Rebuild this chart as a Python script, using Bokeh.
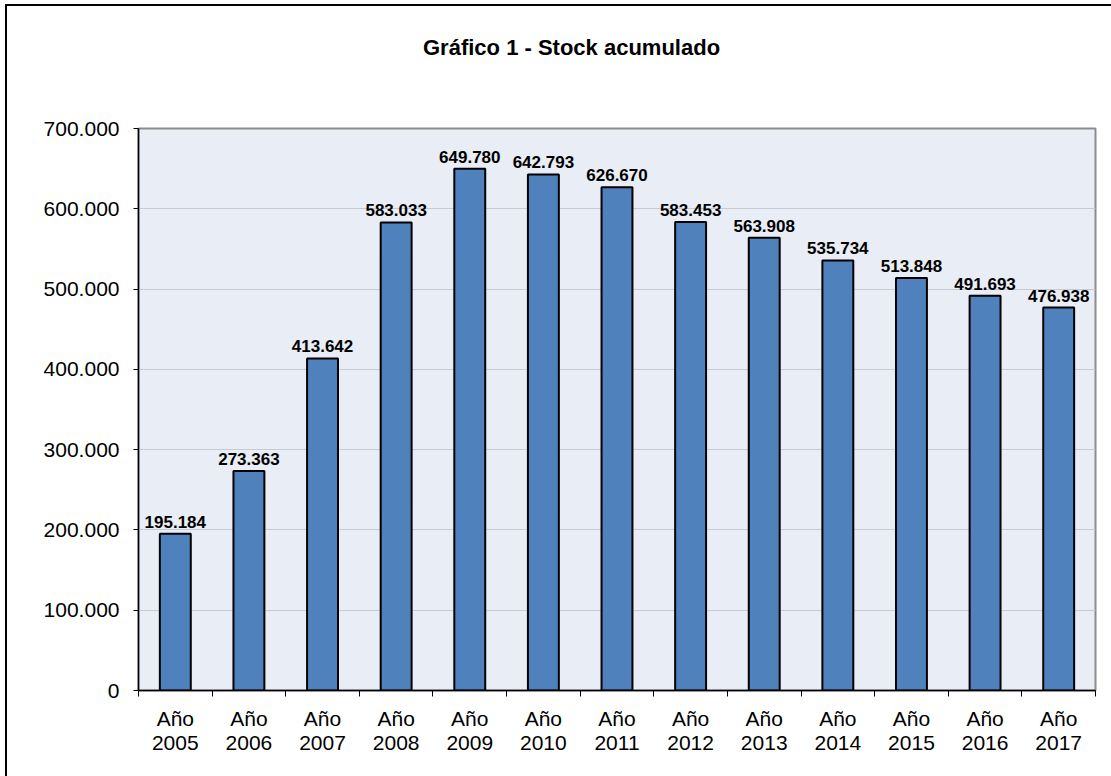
from bokeh.plotting import figure
from bokeh.layouts import column
from bokeh.models import Range1d, FixedTicker, CustomJSTickFormatter, ColumnDataSource, Div
from bokeh.core.properties import value
from bokeh.embed import file_html
from bokeh.resources import INLINE

years = ["2005", "2006", "2007", "2008", "2009", "2010", "2011", "2012", "2013", "2014", "2015", "2016", "2017"]
stock = [195184, 273363, 413642, 583033, 649780, 642793, 626670, 583453, 563908, 535734, 513848, 491693, 476938]
y_ticks = [0, 100000, 200000, 300000, 400000, 500000, 600000, 700000]
title_text = "Gráfico 1 - Stock acumulado"

FONT = "Liberation Sans"

def fmt(v):
    return f"{v:,}".replace(",", ".")

xs = [i + 0.5 for i in range(len(years))]
src = ColumnDataSource(dict(x=xs, top=stock, lab=[fmt(v) for v in stock]))

title_div = Div(text=title_text, width=1104, height=80,
                styles={"font-family": FONT, "font-weight": "bold", "font-size": "22px",
                        "color": "black", "background-color": "white",
                        "padding-left": "411px", "padding-top": "24px", "line-height": "26px",
                        "box-sizing": "border-box"})

p = figure(width=1104, height=680, output_backend="svg", toolbar_location=None,
           x_range=Range1d(0, len(years)), y_range=Range1d(0, 700000),
           min_border_left=131, min_border_top=32, min_border_right=16, min_border_bottom=86)
p.background_fill_color = "#E8EDF6"
p.border_fill_color = "white"
p.outline_line_color = "#8C8C8C"
p.outline_line_width = 2

p.vbar(x="x", top="top", width=0.42, bottom=0, source=src,
       fill_color="#4F81BD", line_color="black", line_width=2)
p.text(x="x", y="top", text="lab", source=src, text_align="center", text_baseline="alphabetic",
       y_offset=-12, text_font=value(FONT), text_font_style="bold", text_font_size="17px",
       text_color="black")

p.xgrid.grid_line_color = None
p.ygrid.grid_line_color = "#C6CBD3"
p.ygrid.grid_line_width = 1.2
p.ygrid.ticker = FixedTicker(ticks=y_ticks)

p.yaxis.ticker = FixedTicker(ticks=y_ticks)
p.yaxis.formatter = CustomJSTickFormatter(code="return Math.round(tick).toString().replace(/\\B(?=(\\d{3})+(?!\\d))/g, '.');")
p.yaxis.major_tick_out = 5
p.yaxis.major_tick_in = 0
p.yaxis.minor_tick_line_color = None
p.yaxis.axis_line_color = "black"
p.yaxis.axis_line_width = 1.5
p.yaxis.major_tick_line_color = "black"
p.yaxis.major_label_text_font = FONT
p.yaxis.major_label_text_font_size = "21px"
p.yaxis.major_label_text_color = "black"
p.yaxis.major_label_standoff = 14

p.xaxis.ticker = FixedTicker(ticks=xs, minor_ticks=list(range(len(years) + 1)))
p.xaxis.formatter = CustomJSTickFormatter(args=dict(labels=["Año\n" + y for y in years]),
                                          code="return labels[Math.floor(tick)];")
p.xaxis.major_tick_out = 0
p.xaxis.major_tick_in = 0
p.xaxis.minor_tick_out = 6
p.xaxis.minor_tick_in = 0
p.xaxis.minor_tick_line_color = "black"
p.xaxis.axis_line_color = "black"
p.xaxis.axis_line_width = 1.5
p.xaxis.major_label_text_font = FONT
p.xaxis.major_label_text_font_size = "21px"
p.xaxis.major_label_text_color = "black"
p.xaxis.major_label_text_line_height = 1.05
p.xaxis.major_label_standoff = 10

page = column(title_div, p, spacing=0,
              styles={"border-top": "2px solid black", "border-left": "2px solid black",
                      "margin-left": "5px", "margin-top": "4px"})

open("out.html", "w").write(file_html(page, INLINE))
